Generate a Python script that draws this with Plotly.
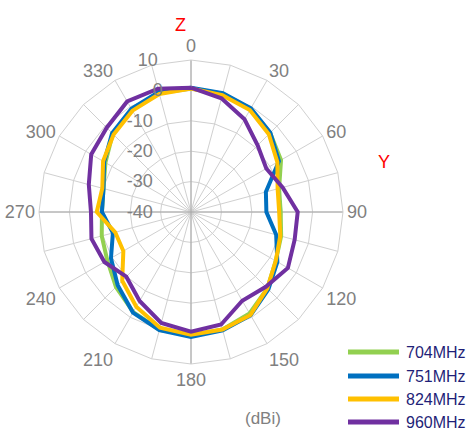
import plotly.graph_objects as go

angles = [str(a) for a in range(0, 360, 15)]
angle_labels = [str(a) if a % 30 == 0 else "" for a in range(0, 360, 15)]
radial_ticks = [-40, -30, -20, -10, 0, 10]

series_names = ["704MHz", "751MHz", "824MHz", "960MHz"]
series_colors = ["#92d050", "#0070c0", "#ffc000", "#7030a0"]

g704 = [0.6, 0.3, -0.8, -3.2, -5.8, -10.0, -10.5, -9.3, -7.8, -4.5, -1.5, 0.0,
        0.6, 0.1, -2.0, -5.1, -8.2, -9.6, -10.7, -10.2, -7.5, -3.6, -1.0, 0.6]
g751 = [0.9, 0.5, -0.6, -3.1, -6.6, -14.5, -15.2, -11.0, -7.2, -4.0, -0.8, 0.3,
        1.1, 0.2, -1.8, -5.9, -9.6, -13.4, -10.7, -10.2, -7.0, -3.3, -0.8, 0.9]
g824 = [0.6, -0.2, -1.3, -3.8, -7.2, -10.5, -11.0, -9.6, -7.8, -4.5, -0.9, 0.0,
        0.4, -0.6, -4.0, -8.0, -14.3, -14.2, -9.0, -9.8, -6.6, -4.0, -1.5, 0.2]
g960 = [0.9, -1.3, -4.8, -9.0, -11.4, -8.8, -4.9, -4.7, -3.2, -5.2, -6.3, -1.7,
        -0.6, -2.2, -6.2, -9.9, -7.1, -6.1, -7.1, -5.2, -2.1, -0.8, 2.0, 2.0]

series = [g704, g751, g824, g960]

grid = "#d0d0d0"
axis_gray = "#a6a6a6"
tick_gray = "#808080"


def pad_label(v):
    # pad with non-breaking spaces so the centred label sits left of the axis
    s = str(v)
    tw = 10 * sum(c.isdigit() for c in s) + 6 * s.count("-")
    n = int(round((50 + tw) / 11.5))
    return s + "\u00a0" * n


radial_text = [pad_label(v) for v in radial_ticks]

fig = go.Figure()
rmin, rmax = radial_ticks[0], radial_ticks[-1]
fig.add_trace(go.Scatterpolar(
    r=[rmax, rmin, rmax, None, rmax, rmin, rmax],
    theta=["0", "0", "180", None, "90", "90", "270"],
    mode="lines", line=dict(color=axis_gray, width=1),
    hoverinfo="skip", showlegend=False))

for name, color, vals in zip(series_names, series_colors, series):
    fig.add_trace(go.Scatterpolar(
        r=vals + vals[:1], theta=angles + angles[:1], mode="lines",
        name=name, line=dict(color=color, width=4), showlegend=False))

fig.update_layout(
    width=472, height=432,
    margin=dict(l=0, r=0, t=0, b=0),
    paper_bgcolor="white",
    font=dict(family="Liberation Sans, Arial, sans-serif"),
    polar=dict(
        domain=dict(x=[39 / 472, 343 / 472], y=[68 / 432, 372 / 432]),
        bgcolor="white",
        gridshape="linear",
        angularaxis=dict(
            type="category", categoryorder="array", categoryarray=angles,
            rotation=90, direction="clockwise",
            tickmode="array", tickvals=angles, ticktext=angle_labels,
            tickfont=dict(size=18, color=tick_gray),
            ticks="", showline=True, linecolor=grid, linewidth=1,
            gridcolor=grid, gridwidth=1),
        radialaxis=dict(
            range=[rmin, rmax], tickmode="array", tickvals=radial_ticks,
            ticktext=radial_text,
            angle=90, side="counterclockwise", tickangle=90,
            tickfont=dict(size=18, color=tick_gray),
            ticks="", showline=False, gridcolor=grid, gridwidth=1),
    ),
)

leg_y = [352, 376, 399, 422]
for name, color, y in zip(series_names, series_colors, leg_y):
    fig.add_shape(type="line", xref="paper", yref="paper",
                  x0=348 / 472, x1=399 / 472, y0=1 - y / 432, y1=1 - y / 432,
                  line=dict(color=color, width=5))
    fig.add_annotation(text=name, xref="paper", yref="paper",
                       x=404 / 472, y=1 - y / 432, xanchor="left", yanchor="middle",
                       showarrow=False, font=dict(size=16, color="#1f1f78"))

fig.add_annotation(text="Z", xref="paper", yref="paper", x=180 / 472, y=1 - 25 / 432,
                   xanchor="center", yanchor="middle", showarrow=False,
                   font=dict(size=18, color="#ff0000"))
fig.add_annotation(text="Y", xref="paper", yref="paper", x=384 / 472, y=1 - 162 / 432,
                   xanchor="center", yanchor="middle", showarrow=False,
                   font=dict(size=18, color="#ff0000"))
fig.add_annotation(text="(dBi)", xref="paper", yref="paper", x=263 / 472, y=1 - 418 / 432,
                   xanchor="center", yanchor="middle", showarrow=False,
                   font=dict(size=17, color=tick_gray))

fig.write_html("out.html", config={"displayModeBar": False},
               post_script="document.body.style.margin='0';")
